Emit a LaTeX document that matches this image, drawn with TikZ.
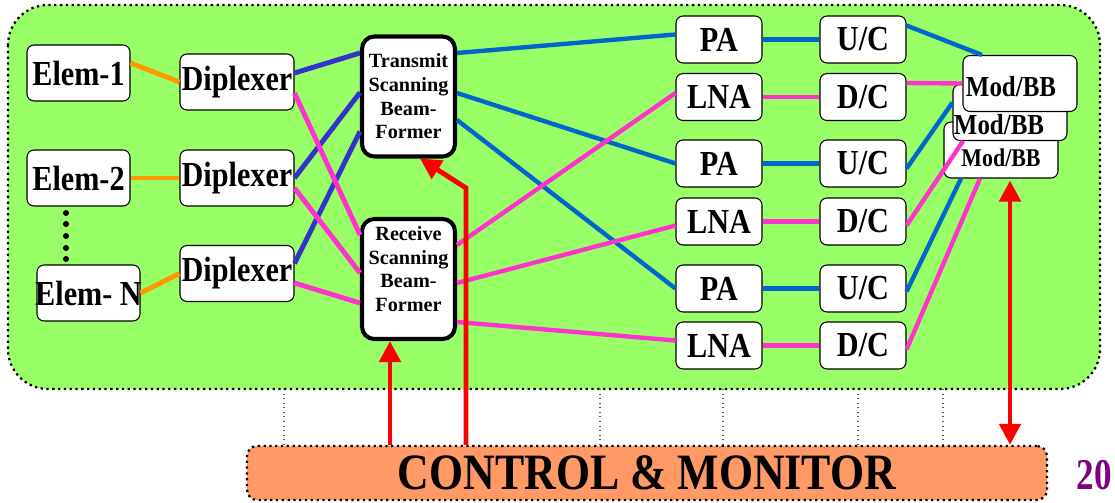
\documentclass[tikz,border=0pt]{standalone}
\usepackage{fontspec}
\setmainfont{Liberation Serif}
\newfontfamily\tallfont{Liberation Serif}[FakeStretch=0.86]
\usetikzlibrary{arrows.meta,calc}

\definecolor{panelgreen}{HTML}{99FF66}
\definecolor{ctrlorange}{HTML}{FF9966}
\definecolor{feedorange}{HTML}{FF9900}
\definecolor{txdark}{HTML}{3333CC}
\definecolor{txblue}{HTML}{0066CC}
\definecolor{rxpink}{HTML}{FF33CC}
\definecolor{pagepurple}{HTML}{800080}

\tikzset{
  every node/.style={font=\bfseries},
  blk/.style={draw, fill=white, rounded corners=4pt, line width=0.6pt, inner sep=0pt,
    font=\tallfont\bfseries\fontsize{20}{22}\selectfont},
  elem/.style={blk, minimum width=2.06cm, minimum height=1.12cm},
  dip/.style={blk, minimum width=2.28cm, minimum height=1.12cm},
  amp/.style={blk, minimum width=1.72cm, minimum height=0.94cm},
  modbb/.style={blk, minimum width=2.28cm, minimum height=1.12cm},
  modtext/.style={font=\tallfont\bfseries\fontsize{16.5}{18}\selectfont},
  bfbox/.style={draw, fill=white, line width=2.3pt, rounded corners=7pt, inner sep=0pt,
    minimum width=1.86cm, minimum height=2.4cm},
  bftext/.style={align=center, font=\bfseries\fontsize{11.5}{13.5}\selectfont},
  panel/.style={fill=panelgreen, draw, dotted, line width=1.3pt, rounded corners=0.8cm},
  ctrlbox/.style={fill=ctrlorange, draw, dotted, line width=1.3pt, rounded corners=0.2cm,
    minimum width=16cm, minimum height=1.08cm, font=\bfseries\fontsize{29}{32}\selectfont},
  tick/.style={gray!70!black, dotted, line width=0.6pt},
  feed/.style={feedorange, line width=2.8pt},
  txa/.style={txdark, line width=2.8pt},
  rxa/.style={rxpink, line width=2.8pt},
  txb/.style={txblue, line width=2.5pt},
  rxb/.style={rxpink, line width=2.5pt},
  ctl/.style={red, line width=2.8pt, -{Triangle[length=4.2mm,width=4.2mm]}},
  ctlboth/.style={red, line width=2.8pt, {Triangle[length=4.2mm,width=4.2mm]}-{Triangle[length=4.2mm,width=4.2mm]}},
}

\begin{document}
\begin{tikzpicture}[x=0.02cm, y=-0.02cm]
  \useasboundingbox (0,0) rectangle (1115,503);
  \draw[panel] (8,5) rectangle (1100,389);
  \foreach \x in {284,600,723,858,943}
    \draw[tick] (\x,389) -- (\x,446);
  \node[ctrlbox] (ctrl) at (647,473) {\scalebox{0.86}[1]{CONTROL \& MONITOR}};
  \node[text=pagepurple, font=\bfseries\fontsize{25}{28}\selectfont] (page) at (1094,475) {\scalebox{0.8}[1]{20}};

  % elements and diplexers
  \node[elem] (e1) at (78.5,73) {Elem-1};
  \node[elem] (e2) at (78.5,178) {Elem-2};
  \node[elem] (en) at (88.5,293) {\makebox[1.9cm]{Elem- N}};
  \foreach \y in {213,224,236,248,259}
    \fill (66,\y) circle (0.06cm);
  \node[dip] (d1) at (237,82) {Diplexer};
  \node[dip] (d2) at (237,178) {Diplexer};
  \node[dip] (d3) at (237,273.5) {Diplexer};

  % beam formers
  \node[bfbox, bftext] (tx) at (408.5,96.5) {Transmit\\Scanning\\Beam-\\Former};
  \node[bfbox, label={[bftext,yshift=0.2cm]center:{Receive\\Scanning\\Beam-\\Former}}] (rx) at (408.5,279) {};

  % RF chains
  \node[amp] (pa1) at (719,39.5) {PA};
  \node[amp] (lna1) at (719,97) {LNA};
  \node[amp] (pa2) at (719,163.5) {PA};
  \node[amp] (lna2) at (719,221.5) {LNA};
  \node[amp] (pa3) at (719,288.5) {PA};
  \node[amp] (lna3) at (719,345.5) {LNA};
  \node[amp] (uc1) at (863,39.5) {U/C};
  \node[amp] (dc1) at (863,97) {D/C};
  \node[amp] (uc2) at (863,163.5) {U/C};
  \node[amp] (dc2) at (863,221.5) {D/C};
  \node[amp] (uc3) at (863,288.5) {U/C};
  \node[amp] (dc3) at (863,345.5) {D/C};

  % modems, back to front
  \node[modbb, label={[modtext,font=\tallfont\bfseries\fontsize{14.5}{16}\selectfont,yshift=-0.16cm]center:Mod/BB}] (mb3) at (1001,150) {};
  \node[modbb, label={[modtext,xshift=-0.22cm,yshift=-0.25cm]center:Mod/BB}] (mb2) at (1010,112.5) {};
  \node[modbb, label={[modtext,xshift=-0.18cm,yshift=-0.07cm]center:Mod/BB}] (mb1) at (1020,83.5) {};

  \draw[feed] ($(e1.east)+(0,-10)$) -- (d1.west);
  \draw[feed] (e2) -- (d2);
  \draw[feed] (en.east) -- (d3.west);

  \draw[txa] ($(d1.east)+(0,-9)$) -- ($(tx.west)+(0,-43.5)$);
  \draw[txa] (d2.east) -- ($(tx.west)+(0,-4)$);
  \draw[txa] ($(d3.east)+(0,-10)$) -- ($(tx.west)+(0,35)$);
  \draw[rxa] ($(d1.east)+(0,11)$) -- ($(rx.west)+(0,-44)$);
  \draw[rxa] ($(d2.east)+(0,10)$) -- ($(rx.west)+(0,-6)$);
  \draw[rxa] ($(d3.east)+(0,9.5)$) -- ($(rx.west)+(0,24)$);

  \draw[txb] ($(tx.east)+(0,-43.5)$) -- ($(pa1.west)+(0,-5)$);
  \draw[txb] ($(tx.east)+(0,-3.5)$) -- (pa2.west);
  \draw[txb] ($(tx.east)+(0,23.5)$) -- (pa3.west);
  \draw[rxb] ($(rx.east)+(0,-34)$) -- ($(lna1.west)+(0,-4)$);
  \draw[rxb] ($(rx.east)+(0,4)$) -- ($(lna2.west)+(0,4)$);
  \draw[rxb] ($(rx.east)+(0,43)$) -- ($(lna3.west)+(0,-5)$);

  \draw[txb] (pa1) -- (uc1);
  \draw[txb] (pa2) -- (uc2);
  \draw[txb] (pa3) -- (uc3);
  \draw[rxb] (lna1) -- (dc1);
  \draw[rxb] (lna2) -- (dc2);
  \draw[rxb] (lna3) -- (dc3);

  \draw[txb] ($(uc1.east)+(0,-14)$) -- ($(mb1.north)+(-38,0)$);
  \draw[rxb] ($(dc1.east)+(0,-14)$) -- (mb1.west);
  \draw[txb] ($(uc2.east)+(0,5)$) -- ($(mb2.west)+(0,-10)$);
  \draw[rxb] ($(dc2.east)+(0,4)$) -- ($(mb2.south)+(-47,0)$);
  \draw[txb] ($(uc3.east)+(0,3)$) -- ($(mb3.south)+(-40,0)$);
  \draw[rxb] ($(dc3.east)+(0,4)$) -- ($(mb3.south)+(-21,0)$);

  % control
  \coordinate (rxin) at ($(rx.south)+(-18.5,0)$);
  \coordinate (bend) at (466,188);
  \coordinate (mbin) at ($(mb3.south)+(9,2)$);
  \draw[ctl] (ctrl.north -| rxin) -- (rxin);
  \draw[ctl] (ctrl.north -| bend) -- (bend) -- ($(tx.south)+(11.5,0)$);
  \draw[ctlboth] (mbin) -- (ctrl.north -| mbin);
\end{tikzpicture}
\end{document}
